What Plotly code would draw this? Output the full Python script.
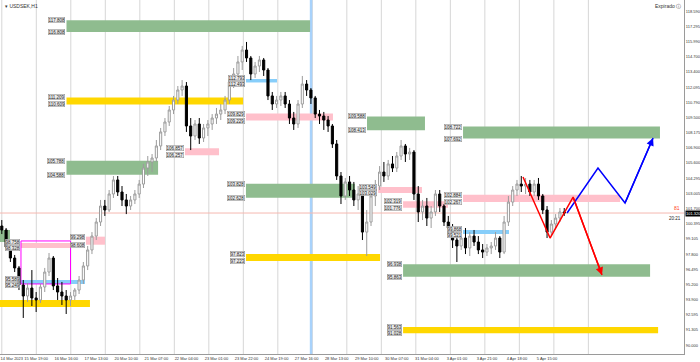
import plotly.graph_objects as go

# ---------------- data ----------------
opens = [100.21, 99.87, 98.41, 97.47, 96.62, 95.16, 94.22, 94.90, 94.05, 93.88,
         94.99, 96.27, 97.47, 95.08, 94.56, 94.22, 93.88, 94.22, 94.73, 95.59,
         96.79, 98.16, 99.35, 100.55, 101.92, 101.58, 102.95, 104.15, 103.12, 102.44,
         101.92, 102.44, 102.95, 103.80, 105.17, 105.69, 106.03, 107.06, 108.26, 109.11,
         110.14, 110.99, 111.85, 112.19, 108.77, 107.91, 108.94, 107.74, 108.60, 108.94,
         109.45, 109.79, 110.14, 110.99, 112.53, 113.22, 114.25, 115.27, 114.59, 113.22,
         113.90, 114.42, 113.56, 111.34, 110.65, 110.99, 111.34, 110.65, 109.45, 108.94,
         110.65, 112.36, 111.85, 111.17, 109.79, 109.62, 109.28, 108.77, 107.23, 104.49,
         102.78, 103.98, 103.29, 102.44, 102.95, 99.69, 100.55, 102.78, 103.63, 104.83,
         104.49, 105.52, 105.17, 106.20, 107.06, 106.37, 106.54, 102.95, 101.41, 101.92,
         100.89, 101.41, 102.95, 101.92, 100.55, 100.04, 99.01, 98.50, 99.18, 98.33,
         99.35, 98.84, 98.16, 97.98, 98.33, 98.50, 99.18, 97.98, 100.55, 102.26,
         103.29, 103.80, 103.63, 103.80, 103.12, 103.80, 102.78, 101.58, 99.69, 100.38,
         100.89, 101.41]
highs = [100.72, 100.04, 98.58, 97.73, 96.79, 95.59, 95.33, 96.44, 94.56, 95.25,
         96.62, 97.90, 97.64, 95.76, 95.42, 94.73, 94.56, 94.90, 95.93, 97.13,
         98.50, 99.69, 100.89, 102.44, 102.44, 103.29, 104.49, 104.49, 103.63, 102.95,
         102.78, 103.29, 104.15, 105.52, 106.20, 106.37, 107.57, 108.60, 109.45, 110.48,
         111.34, 112.19, 112.70, 112.53, 109.45, 109.28, 109.45, 108.94, 109.28, 109.79,
         110.31, 110.65, 111.34, 112.88, 113.73, 114.76, 115.62, 115.96, 114.76, 114.25,
         114.76, 114.59, 113.73, 111.68, 111.34, 111.68, 111.68, 110.99, 109.97, 110.99,
         113.05, 112.70, 112.02, 111.34, 110.14, 109.97, 109.62, 108.94, 107.57, 104.83,
         104.32, 104.49, 103.98, 103.63, 103.29, 101.58, 103.46, 104.15, 105.34, 105.69,
         105.86, 106.20, 106.54, 107.57, 107.23, 106.89, 106.71, 103.63, 102.44, 102.61,
         101.92, 103.29, 103.29, 102.09, 101.07, 100.38, 99.69, 99.52, 100.04, 99.69,
         99.87, 99.35, 98.67, 98.67, 98.84, 99.69, 99.35, 101.07, 102.78, 103.63,
         104.15, 104.49, 104.32, 104.15, 104.15, 104.32, 102.95, 101.92, 100.72, 101.23,
         101.75, 101.75]
lows = [99.52, 98.16, 97.13, 96.27, 94.73, 92.34, 93.71, 93.36, 92.85, 93.62,
        94.56, 95.93, 94.73, 93.88, 93.45, 92.68, 93.36, 93.88, 94.39, 95.25,
        96.44, 97.81, 99.01, 100.21, 101.07, 101.41, 102.61, 102.78, 101.92, 101.23,
        101.58, 102.09, 102.61, 103.46, 104.49, 104.83, 105.69, 106.71, 107.91, 108.77,
        109.79, 110.65, 111.34, 108.26, 106.71, 107.57, 107.23, 107.40, 107.91, 108.43,
        108.94, 109.28, 109.79, 110.65, 112.02, 112.88, 113.56, 114.25, 112.70, 112.88,
        113.39, 113.05, 110.99, 110.14, 110.31, 110.48, 110.31, 108.94, 108.43, 108.60,
        110.31, 111.34, 110.65, 109.45, 108.94, 108.43, 108.26, 106.89, 104.15, 102.09,
        102.44, 102.78, 101.92, 101.58, 99.01, 97.64, 100.21, 101.92, 103.29, 103.98,
        104.15, 104.83, 104.83, 105.86, 105.69, 105.86, 102.44, 100.55, 100.72, 100.21,
        100.04, 101.07, 101.41, 100.21, 99.35, 98.33, 97.13, 98.16, 97.81, 97.64,
        98.50, 97.81, 97.47, 97.64, 97.81, 98.16, 97.47, 97.81, 100.21, 101.92,
        102.78, 103.12, 102.95, 102.78, 102.78, 102.44, 101.23, 99.18, 99.35, 100.04,
        100.55, 101.07]
closes = [99.87, 98.41, 97.47, 96.62, 95.16, 94.22, 94.90, 94.05, 93.88, 94.99,
          96.27, 97.47, 95.08, 94.56, 94.22, 93.88, 94.22, 94.73, 95.59, 96.79,
          98.16, 99.35, 100.55, 101.92, 101.58, 102.95, 104.15, 103.12, 102.44, 101.92,
          102.44, 102.95, 103.80, 105.17, 105.69, 106.03, 107.06, 108.26, 109.11, 110.14,
          110.99, 111.85, 112.19, 108.77, 107.91, 108.94, 107.74, 108.60, 108.94, 109.45,
          109.79, 110.14, 110.99, 112.53, 113.22, 114.25, 115.27, 114.59, 113.22, 113.90,
          114.42, 113.56, 111.34, 110.65, 110.99, 111.34, 110.65, 109.45, 108.94, 110.65,
          112.36, 111.85, 111.17, 109.79, 109.62, 109.28, 108.77, 107.23, 104.49, 102.78,
          103.98, 103.29, 102.44, 102.95, 99.69, 100.55, 102.78, 103.63, 104.83, 104.49,
          105.52, 105.17, 106.20, 107.06, 106.37, 106.54, 102.95, 101.41, 101.92, 100.89,
          101.41, 102.95, 101.92, 100.55, 100.04, 99.01, 98.50, 99.18, 98.33, 99.35,
          98.84, 98.16, 97.98, 98.33, 98.50, 99.18, 97.98, 100.55, 102.26, 103.29,
          103.80, 103.63, 103.80, 103.12, 103.80, 102.78, 101.58, 99.69, 100.38, 100.89,
          101.41, 101.32]

time_labels = ["14 Mar 2023", "15 Mar 19:00", "16 Mar 16:00", "17 Mar 13:00", "20 Mar 10:00",
               "21 Mar 07:00", "22 Mar 04:00", "23 Mar 01:00", "23 Mar 22:00", "24 Mar 19:00",
               "27 Mar 16:00", "28 Mar 13:00", "29 Mar 10:00", "30 Mar 07:00", "31 Mar 04:00",
               "3 Apr 01:00", "3 Apr 21:00", "4 Apr 18:00", "5 Apr 15:00"]

price_tick_labels = ["90.000", "91.305", "92.595", "93.900", "95.200", "96.495", "97.800",
                     "99.105", "100.395", "101.700", "103.005", "104.295", "105.600", "106.900",
                     "108.175", "109.500", "110.790", "112.095", "113.400", "114.700",
                     "115.990", "117.295", "118.590"]

# zones: start bar, end bar, upper price, lower price, kind, labelled
zone_x0 = [45.2, 45.2, 45.2, 128.0, 170.6, 170.6, 170.6, 170.6, 255.2, 263.0, 280.4,
           322.3, 322.3, 322.3, 280.4, 280.4, 13.4, 58.8, 13.4, -1.3, -1.3]
zone_x1 = [215.4, 168.6, 109.2, 151.8, 231.4, 192.3, 246.8, 264.3, 295.7, 293.6, 311.8,
           459.9, 432.0, 354.4, 453.0, 458.6, 48.0, 72.1, 58.1, 61.6, 5.7]
zone_hi = [117.808, 111.209, 105.788, 106.857, 109.829, 112.793, 103.828, 97.823, 109.588,
           103.549, 102.319, 108.722, 102.884, 99.868, 96.938, 91.563, 98.758, 99.298,
           95.589, 93.877, 99.868]
zone_lo = [116.808, 110.609, 104.588, 106.257, 109.229, 112.493, 102.628, 97.223, 108.413,
           103.029, 101.776, 107.692, 102.267, 99.521, 95.863, 91.028, 98.328, 98.608,
           95.249, 93.277, 98.840]
zone_kind = ["green", "yellow", "green", "pink", "pink", "blue", "green", "yellow", "green",
             "pink", "pink", "green", "pink", "blue", "green", "yellow", "pink", "pink",
             "blue", "yellow", "green"]
zone_labelled = [True] * 19 + [False, False]

box_x0, box_x1, box_hi, box_lo = 13.4, 48.0, 98.93, 95.25   # magenta frame

event_line_bar = 216.1
bid_price = 101.32

red_path_x = [364.2, 383.1, 399.2, 419.4]
red_path_y = [104.40, 99.18, 102.69, 96.02]
blue_path_x = [395.0, 416.6, 435.5, 455.1]
blue_path_y = [101.32, 105.17, 102.18, 107.74]

# ---------------- styling ----------------
zone_colors = {"green": "#8fbc8f", "yellow": "#ffd700", "pink": "#ffc0cb", "blue": "#87cefa"}
bar_x = [3 * i for i in range(len(closes))]
label_bars = [3 + 21 * j for j in range(len(time_labels))]
label_bars[0] = 7.0          # first label sits flush with the left edge
grid_bars = [24.11 * k for k in range(18)]
price_ticks = [float(t) for t in price_tick_labels]
Y_RANGE = [89.256, 119.551]
PLOT_H = 354.0
px_per_price = PLOT_H / (Y_RANGE[1] - Y_RANGE[0])
NARROW = "Liberation Sans Narrow, Arial Narrow, Liberation Sans, sans-serif"

fig = go.Figure()

shapes = []
for g in grid_bars:
    shapes.append(dict(type="line", xref="x", yref="paper", x0=g, x1=g, y0=0, y1=1,
                       line=dict(color="#d6d6d6", width=1), layer="below"))
shapes.append(dict(type="line", xref="x", yref="paper", x0=event_line_bar, x1=event_line_bar,
                   y0=0, y1=1, line=dict(color="#a8d2fb", width=2.5), layer="below"))
for x0, x1, hi, lo, k in zip(zone_x0, zone_x1, zone_hi, zone_lo, zone_kind):
    shapes.append(dict(type="rect", xref="x", yref="y", x0=x0, x1=x1, y0=lo, y1=hi,
                       fillcolor=zone_colors[k], line=dict(width=0), layer="below"))
shapes.append(dict(type="rect", xref="x", yref="y", x0=box_x0, x1=box_x1, y0=box_lo, y1=box_hi,
                   line=dict(color="#ff00ff", width=1), fillcolor="rgba(0,0,0,0)", layer="below"))
shapes.append(dict(type="line", xref="paper", yref="y", x0=0, x1=1, y0=bid_price, y1=bid_price,
                   line=dict(color="#f5b8b0", width=1), layer="below"))

fig.add_trace(go.Candlestick(
    x=bar_x, open=opens, high=highs, low=lows, close=closes,
    increasing=dict(line=dict(color="#9c9c9c", width=1), fillcolor="#ffffff"),
    decreasing=dict(line=dict(color="#000000", width=1), fillcolor="#000000"),
    whiskerwidth=0, showlegend=False, hoverinfo="skip"))

fig.add_trace(go.Scatter(x=red_path_x, y=red_path_y, mode="lines",
                         line=dict(color="#ff0000", width=1.5), showlegend=False, hoverinfo="skip"))
fig.add_trace(go.Scatter(x=blue_path_x, y=blue_path_y, mode="lines",
                         line=dict(color="#0000ff", width=1.5), showlegend=False, hoverinfo="skip"))

ann = []
for xs, ys, col in ((red_path_x, red_path_y, "#ff0000"), (blue_path_x, blue_path_y, "#0000ff")):
    ann.append(dict(x=xs[-1], y=ys[-1], ax=xs[-2], ay=ys[-2], xref="x", yref="y",
                    axref="x", ayref="y", showarrow=True, arrowhead=2, arrowsize=1,
                    arrowwidth=1.5, arrowcolor=col, text=""))

lab_font = dict(family=NARROW, size=4.5, color="#222222")
for x0, hi, lo, lab in zip(zone_x0, zone_hi, zone_lo, zone_labelled):
    if not lab:
        continue
    h = (hi - lo) * px_per_price
    sep = max(0.0, (6.0 - h) / 2.0)
    for v, shift in ((hi, sep), (lo, -sep)):
        ann.append(dict(x=x0, y=v, xref="x", yref="y", text=f"{v:.3f}", showarrow=False,
                        xanchor="right", yanchor="middle", xshift=-1, yshift=shift, font=lab_font,
                        bgcolor="#e9e9e9", bordercolor="#8a8a8a", borderwidth=0.5, borderpad=0))

small = dict(family=NARROW, size=5, color="#333")
ann.append(dict(x=0.004, y=0.997, xref="paper", yref="paper", text="▾ USDSEK,H1", showarrow=False,
                xanchor="left", yanchor="top", font=small))
ann.append(dict(x=0.998, y=0.997, xref="paper", yref="paper", text="Expirado ⓘ", showarrow=False,
                xanchor="right", yanchor="top", font=small))
ann.append(dict(x=1.0, y=bid_price, xref="paper", yref="y", text=f"{bid_price:.3f}", showarrow=False,
                xanchor="left", yanchor="middle", xshift=1,
                font=dict(family=NARROW, size=4, color="#ffffff"), bgcolor="#000000", borderpad=0))
ann.append(dict(x=1.0, y=bid_price, xref="paper", yref="y", text="81", showarrow=False,
                xanchor="right", yanchor="bottom", xshift=-2,
                font=dict(family=NARROW, size=5, color="#ff4020")))
ann.append(dict(x=1.0, y=bid_price, xref="paper", yref="y", text="20:21", showarrow=False,
                xanchor="right", yanchor="top", xshift=-1, yshift=-1,
                font=dict(family=NARROW, size=4.5, color="#222")))

fig.update_layout(
    width=700, height=362, margin=dict(l=0, r=16, t=0, b=8),
    paper_bgcolor="#ffffff", plot_bgcolor="#ffffff",
    shapes=shapes, annotations=ann, showlegend=False,
    xaxis=dict(range=[-1.26, 476.7], tickmode="array", tickvals=label_bars, ticktext=time_labels,
               tickangle=0, tickfont=dict(family=NARROW, size=4, color="#333"), showgrid=False,
               zeroline=False, showline=True, linecolor="#9a9a9a", ticks="", ticklen=0,
               ticklabeloverflow="allow",
               rangeslider=dict(visible=False), fixedrange=True, automargin=False),
    yaxis=dict(side="right", range=Y_RANGE, tickmode="array", tickvals=price_ticks,
               ticktext=price_tick_labels, tickfont=dict(family=NARROW, size=4, color="#333"),
               showgrid=False, zeroline=False, showline=True, linecolor="#9a9a9a",
               ticks="", ticklabeloverflow="allow", fixedrange=True, automargin=False),
)

fig.write_html("out.html", config={"displayModeBar": False},
               post_script="document.body.style.margin='0';document.body.style.overflow='hidden';")
